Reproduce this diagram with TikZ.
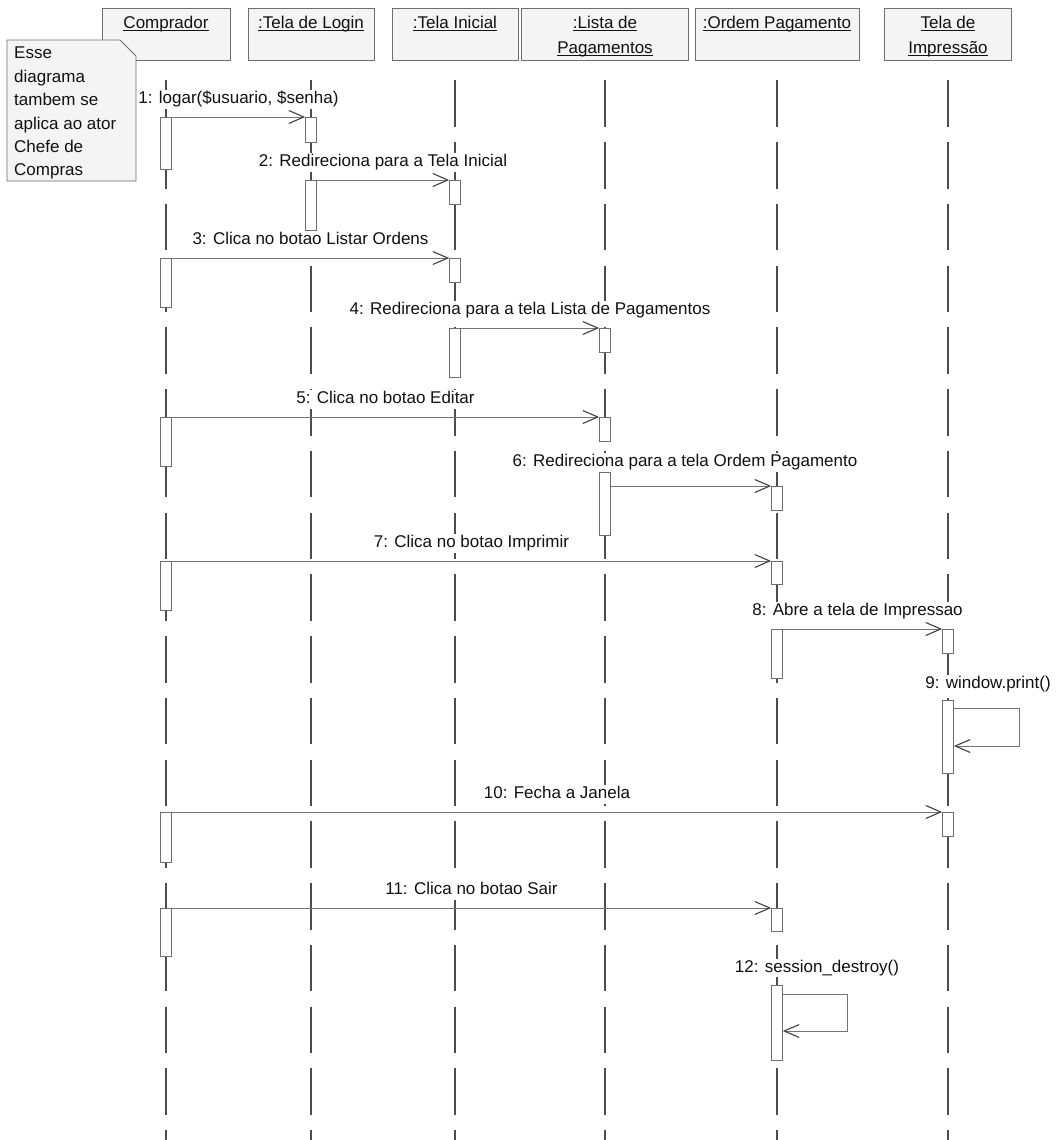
\documentclass[tikz,border=0pt]{standalone}
\usepackage{fontspec}
\setmainfont{Liberation Sans}
\usepackage{tikz}
\usetikzlibrary{arrows.meta,positioning}
\definecolor{inkgray}{HTML}{111111}
\definecolor{wiregray}{HTML}{6E6E6E}
\definecolor{boxfill}{HTML}{F4F4F4}
\newcommand{\objname}[1]{\setbox0\hbox{#1}\rlap{\rule[-3pt]{\wd0}{1.2pt}}\box0}
\tikzset{
  objbox/.style={draw=wiregray,fill=boxfill,minimum height=52pt,inner sep=0pt,line width=0.8pt},
  objlbl/.style={anchor=north,align=center,inner sep=0pt,text=inkgray,
    font=\fontsize{17}{25}\selectfont},
  lifeline/.style={draw=black!70,line width=1.1pt,dash pattern=on 46.5pt off 15.25pt},
  act/.style={draw=wiregray,fill=white,minimum width=11pt,inner sep=0pt,anchor=north,line width=0.7pt},
  msg/.style={draw=black!55,line width=0.8pt,
    -{Straight Barb[length=15pt,width=13pt,line width=1.1pt,color=black!75]}},
  lbl/.style={midway,above=8pt,fill=white,inner sep=1pt,text depth=4pt,text=inkgray,
    font=\fontsize{17}{20}\selectfont},
  selflbl/.style={anchor=base,fill=white,inner sep=1pt,text=inkgray,font=\fontsize{17}{20}\selectfont},
  notebox/.style={draw=wiregray,fill=boxfill,line width=0.8pt},
  notetext/.style={anchor=north west,align=left,inner sep=0pt,text=inkgray,
    font=\fontsize{17}{23.4}\selectfont}
}

\begin{document}
\begin{tikzpicture}[x=1pt,y=-1pt]
  \useasboundingbox (0,0) rectangle (1057,1140);
  % Objects and lifelines
  \foreach \n/\x/\w/\t in {comp/166/128/{\objname{Comprador}},
      login/311/126/{\objname{:Tela de Login}},
      ini/455/126/{\objname{:Tela Inicial}},
      lista/605/167/{\objname{:Lista de}\\\objname{Pagamentos}},
      ordem/777/164/{\objname{:Ordem Pagamento}},
      impr/948/127/{\objname{Tela de}\\\objname{Impressão}}} {
    \node[objbox,minimum width=\w pt] (h\n) at (\x,34) {};
    \node[objlbl] (t\n) at ([yshift=-8pt]h\n.north) {\t};
    \draw[lifeline] ([yshift=-20pt]h\n.south) -- ++(0,1060);
  }
  % Note
  \draw[notebox] (7,40) -- (120,40) -- (136,56) -- (136,181) -- (7,181) -- cycle;
  \node[notetext] (note) at (14,47) {Esse\\diagrama\\tambem se\\aplica ao ator\\Chefe de\\Compras};
  % Activations
  \node[act,minimum height=52pt] (c1) at (166,117) {};
  \node[act,minimum height=25pt] (l1) at (311,117) {};
  \node[act,minimum height=50pt] (l2) at (311,180) {};
  \node[act,minimum height=24pt] (i2) at (455,180) {};
  \node[act,minimum height=49pt] (c3) at (166,258) {};
  \node[act,minimum height=24pt] (i3) at (455,258) {};
  \node[act,minimum height=49pt] (i4) at (455,328) {};
  \node[act,minimum height=24pt] (p4) at (605,328) {};
  \node[act,minimum height=49pt] (c5) at (166,417) {};
  \node[act,minimum height=24pt] (p5) at (605,417) {};
  \node[act,minimum height=63pt] (p6) at (605,472) {};
  \node[act,minimum height=24pt] (o6) at (777,486) {};
  \node[act,minimum height=49pt] (c7) at (166,561) {};
  \node[act,minimum height=23pt] (o7) at (777,561) {};
  \node[act,minimum height=49pt] (o8) at (777,629) {};
  \node[act,minimum height=24pt] (t8) at (948,629) {};
  \node[act,minimum height=73pt] (t9) at (948,700) {};
  \node[act,minimum height=50pt] (c10) at (166,812) {};
  \node[act,minimum height=24pt] (t10) at (948,812) {};
  \node[act,minimum height=48pt] (c11) at (166,908) {};
  \node[act,minimum height=23pt] (o11) at (777,908) {};
  \node[act,minimum height=75pt] (o12) at (777,985) {};
  % Messages
  \draw[msg] (c1.north east) -- (l1.north west) node[lbl] (m1) {1: logar(\$usuario, \$senha)};
  \draw[msg] (l2.north east) -- (i2.north west) node[lbl] (m2) {2: Redireciona para a Tela Inicial};
  \draw[msg] (c3.north east) -- (i3.north west) node[lbl] (m3) {3: Clica no botao Listar Ordens};
  \draw[msg] (i4.north east) -- (p4.north west) node[lbl] (m4) {4: Redireciona para a tela Lista de Pagamentos};
  \draw[msg] (c5.north east) -- (p5.north west) node[lbl] (m5) {5: Clica no botao Editar};
  \draw[msg] (p6.east |- o6.north) -- (o6.north west)
    node[lbl,above=14pt,xshift=-6pt] (m6) {6: Redireciona para a tela Ordem Pagamento};
  \draw[msg] (c7.north east) -- (o7.north west) node[lbl] (m7) {7: Clica no botao Imprimir};
  \draw[msg] (o8.north east) -- (t8.north west) node[lbl,xshift=-5pt] (m8) {8: Abre a tela de Impressao};
  \node[selflbl] (m9) at ([xshift=40pt,yshift=12pt]t9.north) {9: window.print()};
  \draw[msg] ([yshift=-8pt]t9.north east) -- ++(66,0) |- ([yshift=-46pt]t9.north east);
  \draw[msg] (c10.north east) -- (t10.north west) node[lbl] (m10) {10: Fecha a Janela};
  \draw[msg] (c11.north east) -- (o11.north west) node[lbl] (m11) {11: Clica no botao Sair};
  \node[selflbl] (m12) at ([xshift=40pt,yshift=13pt]o12.north) {12: session\_destroy()};
  \draw[msg] ([yshift=-9pt]o12.north east) -- ++(65,0) |- ([yshift=-46pt]o12.north east);
\end{tikzpicture}
\end{document}
